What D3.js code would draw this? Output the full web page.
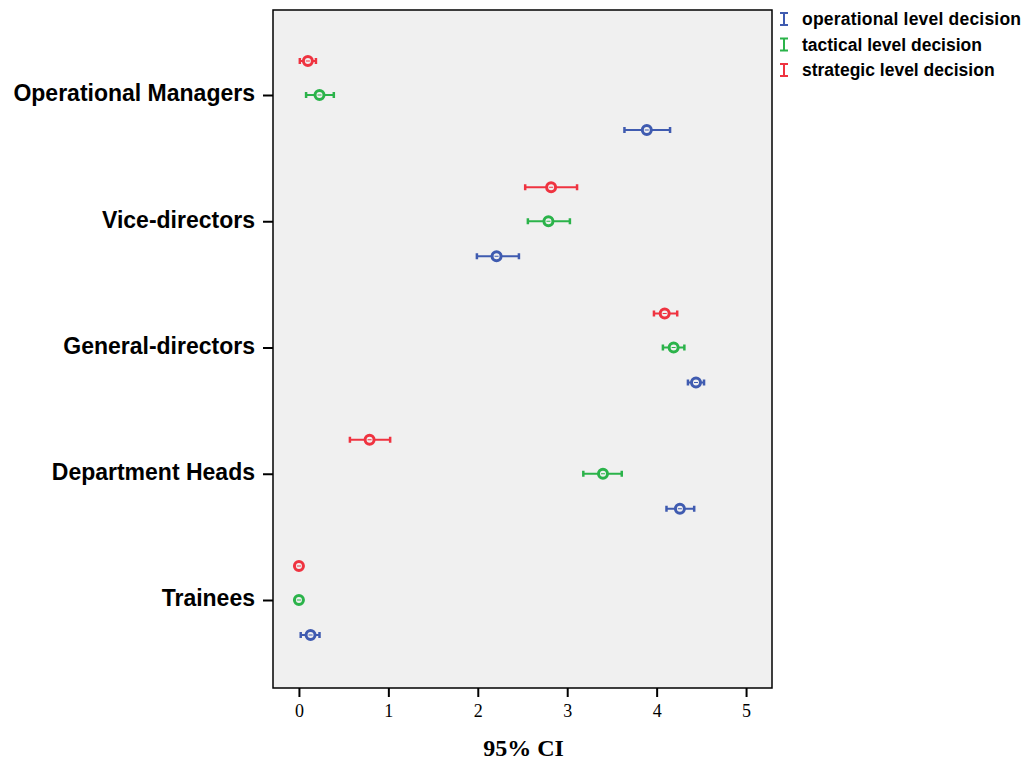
<!DOCTYPE html>
<html>
<head>
<meta charset="utf-8">
<script src="https://cdn.jsdelivr.net/npm/d3@7"></script>
<style>
  body { margin: 0; background: #fff; }
</style>
</head>
<body>
<div id="chart"></div>
<script>
// categories, top to bottom
const groups = ["Operational Managers", "Vice-directors", "General-directors", "Department Heads", "Trainees"];
const seriesNames = ["operational level decision", "tactical level decision", "strategic level decision"];
const seriesColors = ["#3f5bb0", "#2bb34a", "#ef3340"];

// mean, lower and upper 95% CI per group (same order as groups)
const operationalMean = [3.89, 2.21, 4.44, 4.26, 0.13];
const operationalLow  = [3.64, 1.99, 4.35, 4.11, 0.02];
const operationalHigh = [4.15, 2.46, 4.53, 4.42, 0.23];

const tacticalMean = [0.23, 2.79, 4.19, 3.40, 0.00];
const tacticalLow  = [0.08, 2.56, 4.07, 3.18, 0.00];
const tacticalHigh = [0.39, 3.03, 4.31, 3.61, 0.00];

const strategicMean = [0.10, 2.82, 4.09, 0.79, 0.00];
const strategicLow  = [0.01, 2.53, 3.97, 0.57, 0.00];
const strategicHigh = [0.19, 3.11, 4.23, 1.02, 0.00];

const xTicks = [0, 1, 2, 3, 4, 5];

const width = 1025, height = 764;
const plot = { left: 273, right: 772, top: 10, bottom: 688 };

const svg = d3.select("#chart").append("svg")
    .attr("width", width)
    .attr("height", height);

const x = d3.scaleLinear()
    .domain([-0.29, 5.29])
    .range([plot.left, plot.right]);

const y = d3.scalePoint()
    .domain(groups)
    .range([95, 600]);

// offset from the group tick: strategic above, tactical on the tick, operational below
const offsets = [35, 0, -34];

svg.append("rect")
    .attr("x", plot.left)
    .attr("y", plot.top)
    .attr("width", plot.right - plot.left)
    .attr("height", plot.bottom - plot.top)
    .attr("fill", "#f0f0f0")
    .attr("stroke", "#000")
    .attr("stroke-width", 1.5);

// x axis
const xAxis = svg.append("g")
    .attr("transform", `translate(0,${plot.bottom})`)
    .call(d3.axisBottom(x).tickValues(xTicks).tickSize(9).tickFormat(d3.format("d")));
xAxis.select(".domain").remove();
xAxis.selectAll("line").attr("stroke", "#000").attr("stroke-width", 2);
xAxis.selectAll("text")
    .attr("font-family", "Liberation Serif, Times New Roman, serif")
    .attr("font-size", 18)
    .attr("fill", "#000")
    .attr("dy", "0.95em");

svg.append("text")
    .attr("x", (plot.left + plot.right) / 2 + 1)
    .attr("y", 756)
    .attr("text-anchor", "middle")
    .attr("font-family", "Liberation Serif, Times New Roman, serif")
    .attr("font-weight", "bold")
    .attr("font-size", 24)
    .text("95% CI");

// y axis
const yAxis = svg.append("g")
    .attr("transform", `translate(${plot.left},0)`)
    .call(d3.axisLeft(y).tickSize(10).tickPadding(8));
yAxis.select(".domain").remove();
yAxis.selectAll("line").attr("stroke", "#000").attr("stroke-width", 2);
yAxis.selectAll("text")
    .attr("font-family", "Liberation Sans, Arial, sans-serif")
    .attr("font-weight", "bold")
    .attr("font-size", 23)
    .attr("fill", "#000")
    .attr("dy", "0.25em");

// error bars
const series = [
    { mean: operationalMean, low: operationalLow, high: operationalHigh },
    { mean: tacticalMean, low: tacticalLow, high: tacticalHigh },
    { mean: strategicMean, low: strategicLow, high: strategicHigh }
];

series.forEach((s, si) => {
    const color = seriesColors[si];
    const rows = groups.map((g, i) => ({ g, mean: s.mean[i], low: s.low[i], high: s.high[i] }));
    const gs = svg.append("g").selectAll("g")
        .data(rows)
        .join("g")
        .attr("transform", d => `translate(0,${y(d.g) + offsets[si]})`);

    gs.filter(d => d.high > d.low).append("line")
        .attr("x1", d => x(d.low)).attr("x2", d => x(d.high))
        .attr("stroke", color).attr("stroke-width", 2);
    gs.filter(d => d.high > d.low).selectAll(".cap")
        .data(d => [d.low, d.high])
        .join("line")
        .attr("class", "cap")
        .attr("x1", v => x(v)).attr("x2", v => x(v))
        .attr("y1", -3).attr("y2", 3)
        .attr("stroke", color).attr("stroke-width", 2.5);
    gs.append("circle")
        .attr("cx", d => x(d.mean))
        .attr("r", 4.5)
        .attr("fill", "#f0f0f0")
        .attr("stroke", color)
        .attr("stroke-width", 3);
    gs.append("line")
        .attr("x1", d => x(d.mean) - 2).attr("x2", d => x(d.mean) + 2)
        .attr("stroke", color).attr("stroke-width", 1);
});

// legend
const legend = svg.append("g").attr("transform", "translate(784,19)");
const li = legend.selectAll("g")
    .data(seriesNames)
    .join("g")
    .attr("transform", (d, i) => `translate(0,${i * 25.5})`);
li.append("path")
    .attr("d", "M-4,-6H4M0,-6V6M-4,6H4")
    .attr("stroke", (d, i) => seriesColors[i])
    .attr("stroke-width", 2)
    .attr("fill", "none");
li.append("text")
    .attr("x", 18)
    .attr("y", 6)
    .attr("font-family", "Liberation Sans, Arial, sans-serif")
    .attr("font-weight", "bold")
    .attr("font-size", 17.5)
    .attr("textLength", d => d === seriesNames[0] ? 219 : null)
    .text(d => d);
</script>
</body>
</html>
